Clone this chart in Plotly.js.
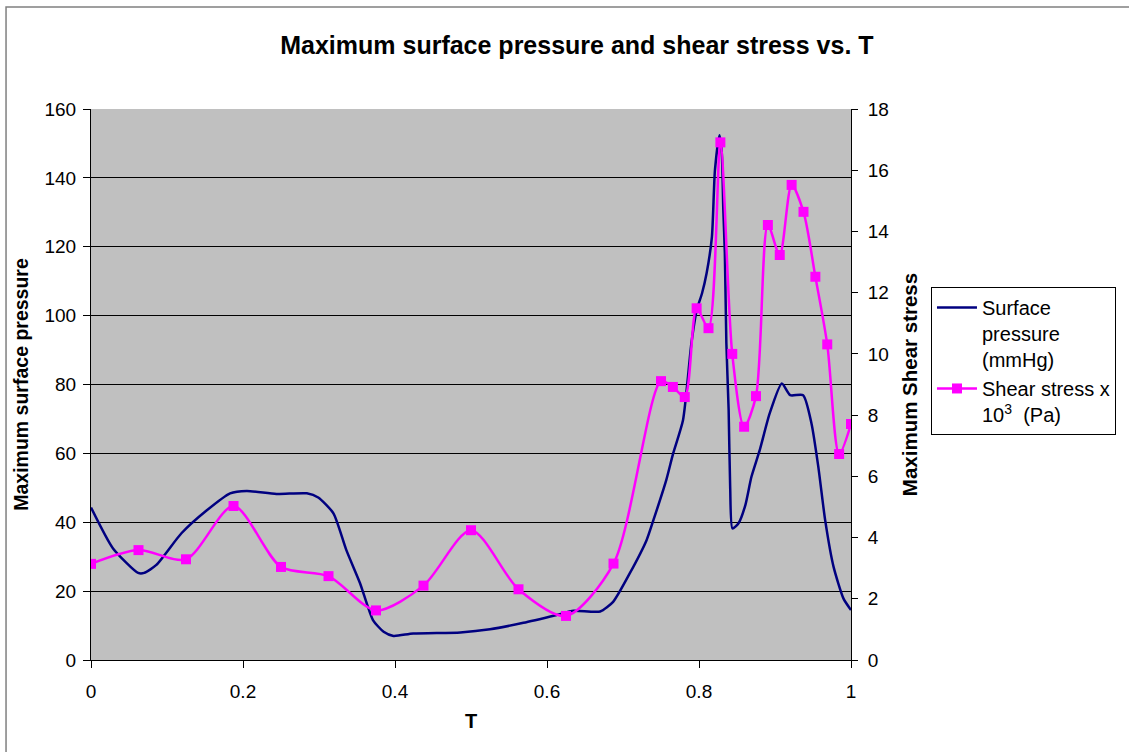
<!DOCTYPE html>
<html>
<head>
<meta charset="utf-8">
<script src="https://cdn.plot.ly/plotly-3.0.1.min.js"></script>
<style>
  html, body { margin: 0; padding: 0; background: #ffffff; }
  #chart { width: 1129px; height: 752px; }
</style>
</head>
<body>
<div id="chart"></div>
<script>
// Surface pressure (mmHg) vs T
const pressureT = [0.000, 0.029, 0.062, 0.070, 0.086, 0.119, 0.152, 0.183, 0.205, 0.244, 0.284, 0.299, 0.319, 0.336, 0.354, 0.371, 0.385, 0.398, 0.424, 0.486, 0.525, 0.569, 0.613, 0.635, 0.670, 0.687, 0.709, 0.731, 0.740, 0.757, 0.766, 0.779, 0.790, 0.797, 0.804, 0.810, 0.817, 0.821, 0.827, 0.830, 0.832, 0.834, 0.836, 0.839, 0.841, 0.844, 0.852, 0.861, 0.869, 0.880, 0.893, 0.909, 0.920, 0.937, 0.948, 0.957, 0.966, 0.977, 0.990, 1.000];
const pressureVal = [44.3, 32.4, 25.3, 25.3, 27.6, 36.8, 43.4, 48.4, 49.1, 48.2, 48.4, 47.2, 42.6, 31.9, 22.3, 11.6, 8.2, 7.0, 7.7, 8.0, 8.9, 10.8, 13.1, 14.3, 14.1, 16.9, 25.2, 34.8, 40.6, 52.3, 60.0, 69.7, 92.0, 101.6, 106.5, 112.3, 122.9, 142.3, 152.4, 147.1, 130.7, 118.1, 92.0, 72.6, 50.3, 38.2, 39.7, 45.0, 53.2, 61.0, 71.6, 80.3, 76.9, 76.9, 68.7, 56.1, 40.6, 27.1, 17.9, 14.5];

// Shear stress x 10^3 (Pa) vs T
const shearT = [0, 0.0625, 0.125, 0.1875, 0.25, 0.3125, 0.375, 0.4375, 0.5, 0.5625, 0.625, 0.6875, 0.75, 0.765625, 0.78125, 0.796875, 0.8125, 0.828125, 0.84375, 0.859375, 0.875, 0.890625, 0.90625, 0.921875, 0.9375, 0.953125, 0.96875, 0.984375, 1.0];
const shearVal = [3.14, 3.59, 3.29, 5.03, 3.04, 2.74, 1.62, 2.43, 4.24, 2.31, 1.44, 3.15, 9.11, 8.92, 8.59, 11.49, 10.84, 16.91, 10.0, 7.62, 8.62, 14.21, 13.23, 15.52, 14.64, 12.52, 10.31, 6.73, 7.71];

const xTickVals = [0, 0.2, 0.4, 0.6, 0.8, 1];
const xTickText = ['0', '0.2', '0.4', '0.6', '0.8', '1'];

const FONT = 'Liberation Sans, Arial, sans-serif';

const traces = [
  {
    x: pressureT, y: pressureVal, name: 'Surface<br>pressure<br>(mmHg)',
    type: 'scatter', mode: 'lines',
    line: { color: '#000080', width: 2.5, shape: 'spline', smoothing: 0.6 },
    yaxis: 'y'
  },
  {
    x: shearT, y: shearVal, name: 'Shear stress x<br>10<sup>3</sup>  (Pa)',
    type: 'scatter', mode: 'lines+markers',
    line: { color: '#FF00FF', width: 2.5, shape: 'spline', smoothing: 0.8 },
    marker: { symbol: 'square', size: 10, color: '#FF00FF' },
    yaxis: 'y2'
  }
];

const layout = {
  width: 1129, height: 752,
  margin: { l: 91, r: 278, t: 109, b: 92, autoexpand: false },
  paper_bgcolor: '#ffffff',
  plot_bgcolor: '#C0C0C0',
  font: { family: FONT, size: 19, color: '#000' },
  title: {
    text: '<b>Maximum surface pressure and shear stress vs. T</b>',
    font: { family: FONT, size: 25, color: '#000' },
    xref: 'container', yref: 'container', x: 0.511, y: 0.94,
    xanchor: 'center', yanchor: 'middle'
  },
  xaxis: {
    range: [0, 1], tickvals: xTickVals, ticktext: xTickText,
    showgrid: false, zeroline: false, automargin: false,
    ticks: 'outside', ticklen: 7, tickcolor: '#000',
    showline: true, linecolor: '#000', linewidth: 1,
    tickfont: { family: FONT, size: 19 }, ticklabelstandoff: 7,
    title: { text: '<b>T</b>', font: { family: FONT, size: 20 }, standoff: 13 }
  },
  yaxis: {
    range: [0, 160], dtick: 20, automargin: false,
    showgrid: true, gridcolor: '#000', gridwidth: 1, zeroline: false,
    ticks: 'outside', ticklen: 7, tickcolor: '#000',
    showline: true, linecolor: '#000', linewidth: 1,
    tickfont: { family: FONT, size: 19 }, ticklabelstandoff: 3,
    title: { text: '<b>Maximum surface pressure</b>', font: { family: FONT, size: 19.5 }, standoff: 10 }
  },
  yaxis2: {
    range: [0, 18], dtick: 2, overlaying: 'y', side: 'right', automargin: false,
    showgrid: false, zeroline: false,
    ticks: 'outside', ticklen: 6, tickcolor: '#000',
    showline: true, linecolor: '#000', linewidth: 1,
    tickfont: { family: FONT, size: 19 }, ticklabelstandoff: 6,
    title: { text: '<b>Maximum Shear stress</b>', font: { family: FONT, size: 20.5 }, standoff: 14 }
  },
  showlegend: true,
  legend: {
    xref: 'container', yref: 'container',
    x: 0.8246, y: 0.6184, xanchor: 'left', yanchor: 'top',
    bordercolor: '#000', borderwidth: 1, bgcolor: '#ffffff',
    font: { family: FONT, size: 20, color: '#000' },
    itemwidth: 40, tracegroupgap: 8, valign: 'top'
  },
  shapes: [
    {
      type: 'rect', xref: 'paper', yref: 'paper',
      x0: -0.1118, x1: 1.40, y0: -0.2, y1: 1.1851,
      line: { color: '#808080', width: 1.5 }, fillcolor: 'rgba(0,0,0,0)', layer: 'below'
    }
  ]
};

Plotly.newPlot('chart', traces, layout, { displayModeBar: false, staticPlot: true });
</script>
</body>
</html>
